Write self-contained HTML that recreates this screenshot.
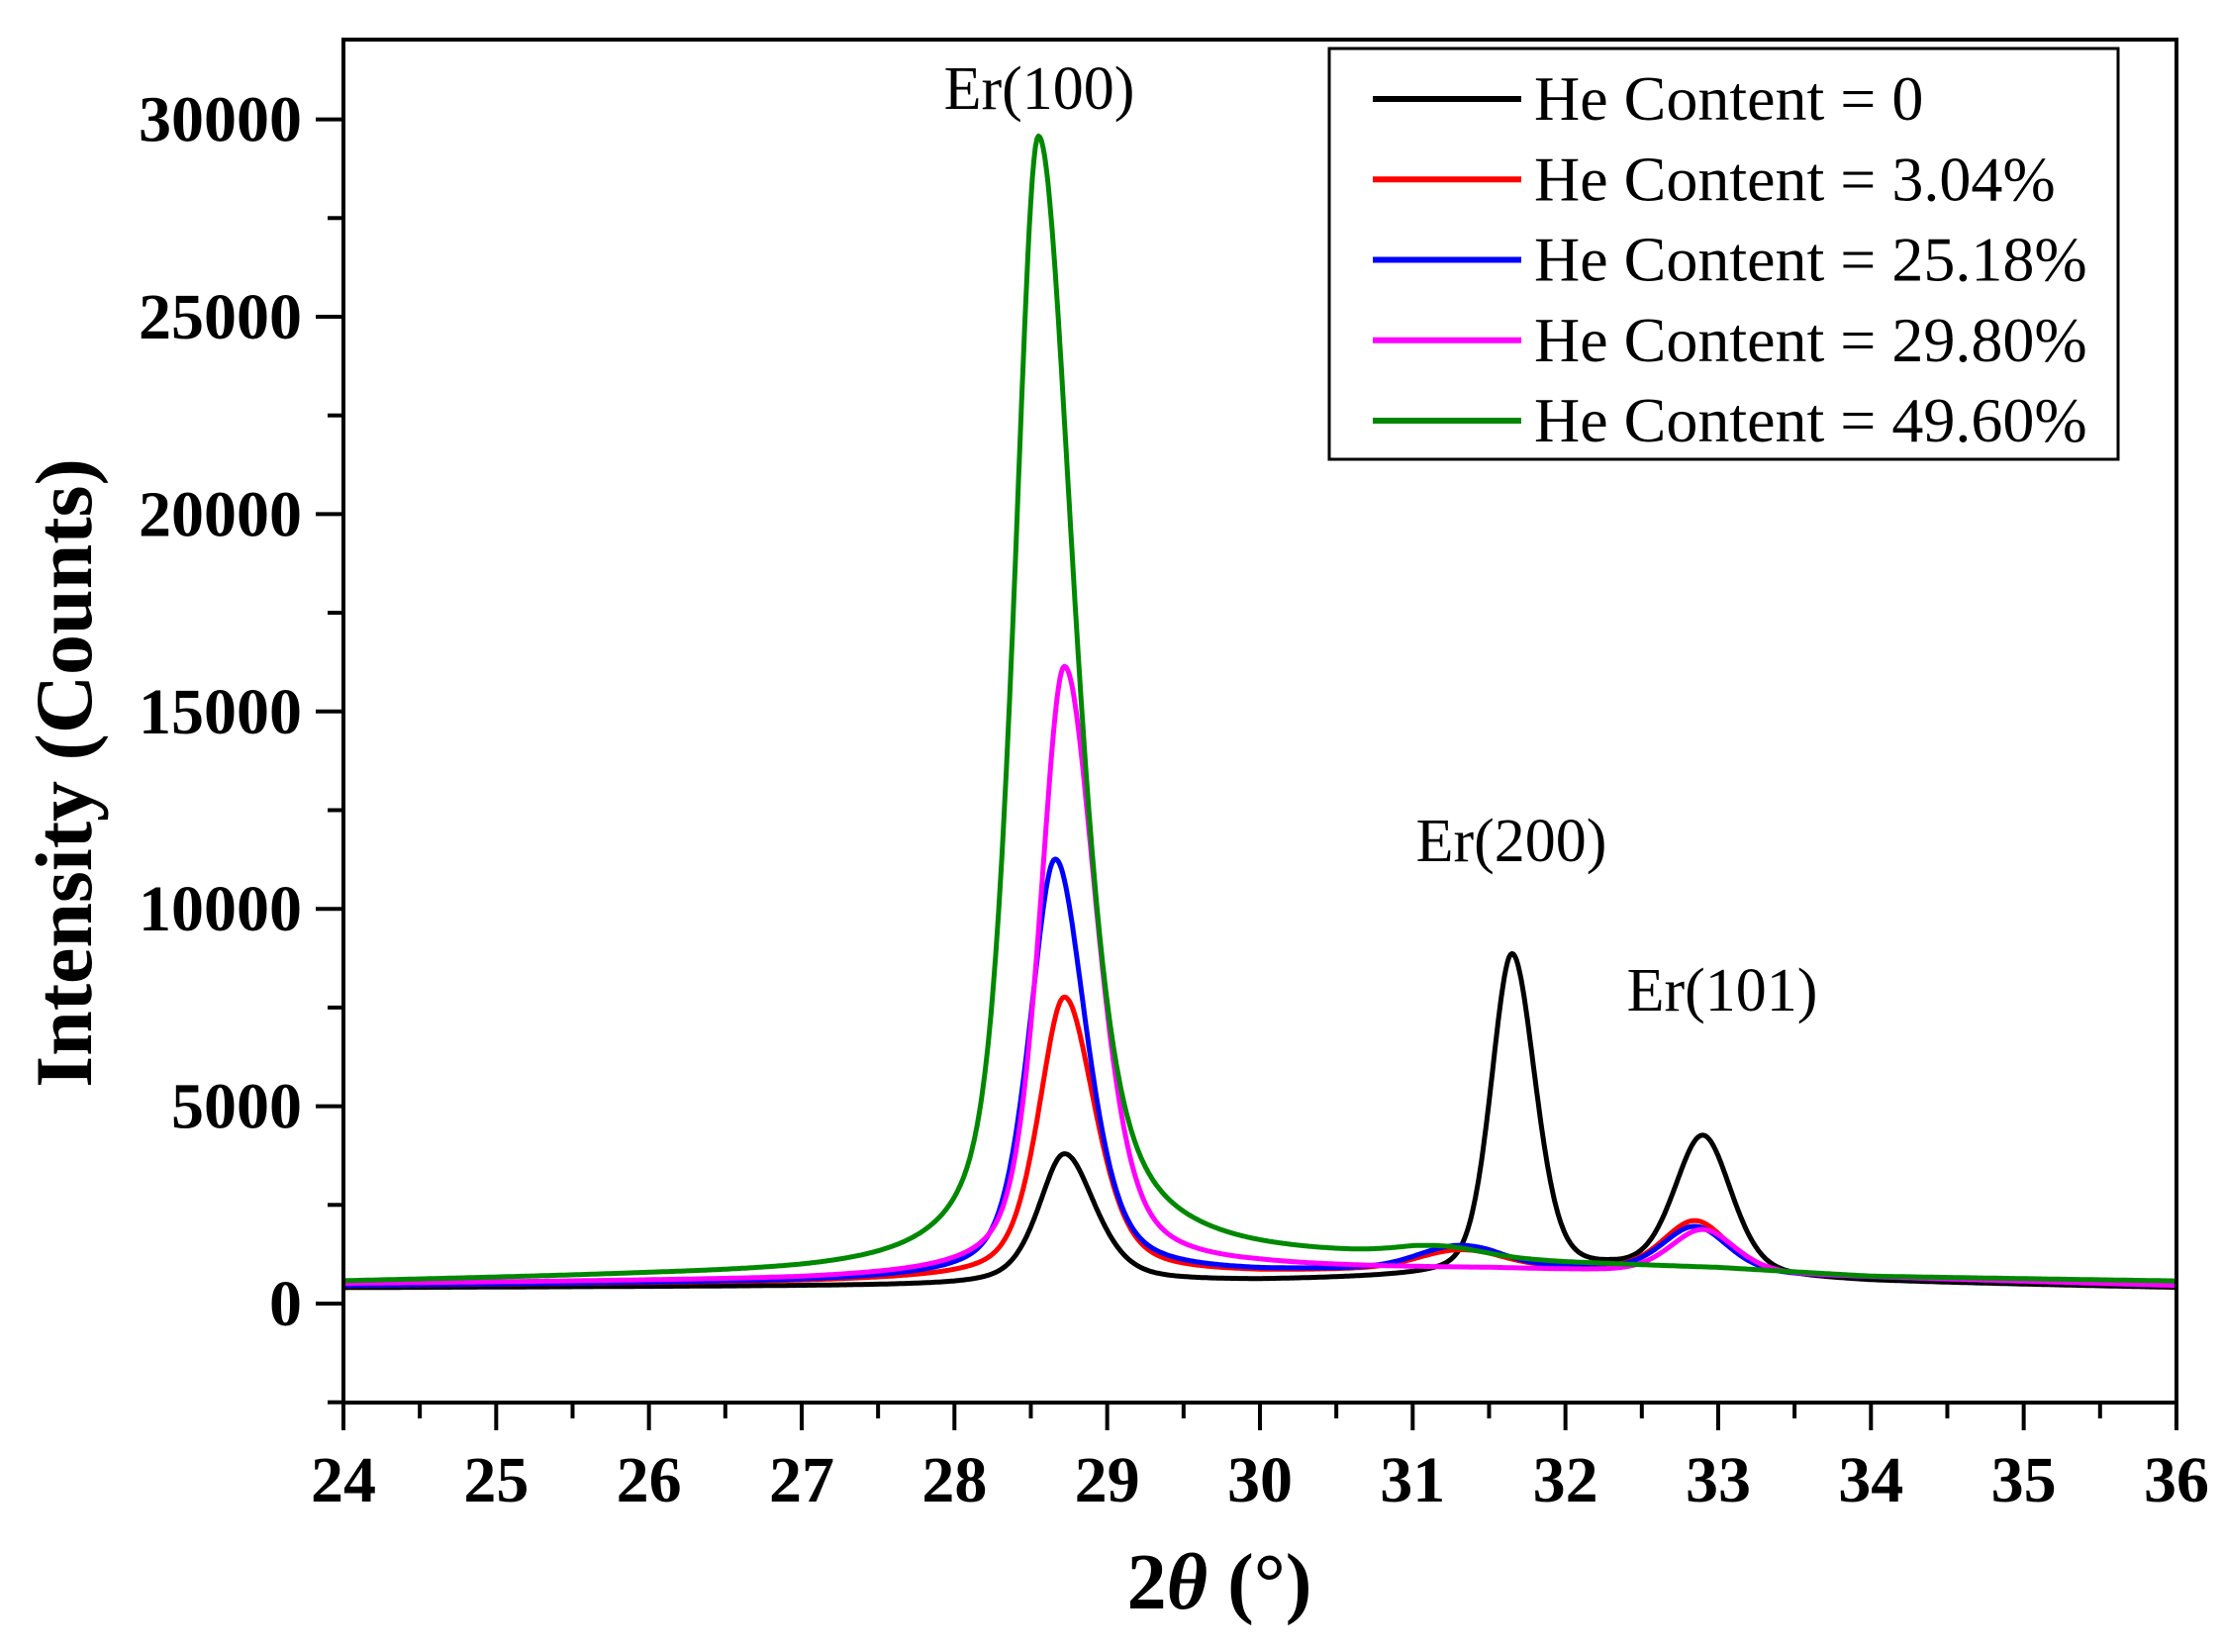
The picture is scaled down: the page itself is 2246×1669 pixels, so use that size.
<!DOCTYPE html>
<html><head><meta charset="utf-8"><style>
html,body{margin:0;padding:0;background:#fff;}
svg{display:block;}
text{font-family:"Liberation Serif",serif;fill:#000;}
</style></head><body>
<svg id="s" width="2246" height="1669" viewBox="0 0 2246 1669" xmlns="http://www.w3.org/2000/svg">
<rect width="2246" height="1669" fill="#fff"/>
<g id="curves"></g>
<rect x="347" y="40" width="1852" height="1377" fill="none" stroke="#000" stroke-width="4"/>
<g id="ticks" stroke="#000" stroke-width="4"></g>
<g id="labels" font-weight="bold" font-size="66"></g>
<text x="1232" y="1625" text-anchor="middle" font-size="80" font-weight="bold">2<tspan font-style="italic">θ</tspan> (°)</text>
<text transform="translate(92,781) rotate(-90)" text-anchor="middle" font-size="82" font-weight="bold">Intensity (Counts)</text>
<text x="1050" y="110" text-anchor="middle" font-size="62">Er(100)</text>
<text x="1527" y="870" text-anchor="middle" font-size="62">Er(200)</text>
<text x="1740" y="1021" text-anchor="middle" font-size="62">Er(101)</text>
<rect x="1343" y="49" width="797" height="415" fill="#fff" stroke="#000" stroke-width="3"/>
<g id="legend" font-size="64"></g>
</svg>
<script>
const NS="http://www.w3.org/2000/svg";
const X=t=>347+(t-24)*154.33, Y=v=>1317-v*0.03988;
function el(p,tag,a,txt){const e=document.createElementNS(NS,tag);for(const k in a)e.setAttribute(k,a[k]);if(txt!==undefined)e.textContent=txt;document.getElementById(p).appendChild(e);}
for(let i=0;i<=24;i++){const t=24+i*0.5,x=X(t),maj=i%2==0;el('ticks','line',{x1:x,y1:1417,x2:x,y2:1417+(maj?28:16)});
 if(maj)el('labels','text',{x:x,y:1517,'text-anchor':'middle'},String(t));}
for(let v=-2500;v<=32000;v+=2500){const y=Y(v),maj=v%5000==0;el('ticks','line',{x1:347,y1:y,x2:347-(maj?28:16),y2:y});
 if(maj)el('labels','text',{x:305,y:y+22,'text-anchor':'end'},String(v));}
function pv(x,p){const[x0,h,wl,wr,eta]=p;const w=x<x0?wl:wr;const d=(x-x0)/w;return h*(eta/(1+d*d)+(1-eta)*Math.exp(-Math.LN2*d*d));}
function base(x,pts){for(let i=0;i<pts.length-1;i++){if(x<=pts[i+1][0]){const[a,b]=pts[i],[c,d]=pts[i+1];return b+(d-b)*(x-a)/(c-a);}}return pts[pts.length-1][1];}
const series=[
 ['#000',[[24,400],[28,450],[30,550],[31,650],[32.3,800],[34,550],[36,400]],[[28.72,3300,0.2,0.24,0.5],[31.65,8100,0.16,0.18,0.3],[32.9,3500,0.22,0.22,0.3]]],
 ['#f00',[[24,450],[27,550],[30,750],[31.5,950],[33.6,700],[36,450]],[[28.72,7100,0.2,0.24,0.5],[31.3,400,0.3,0.3,0],[32.85,1300,0.25,0.25,0.3]]],
 ['#00f',[[24,450],[27,550],[30,750],[31.5,950],[33.6,700],[36,450]],[[28.66,10600,0.2,0.24,0.5],[31.3,500,0.3,0.3,0],[32.85,1150,0.25,0.25,0.3]]],
 ['#f0f',[[24,500],[27,600],[30,850],[31.5,850],[33.6,700],[36,450]],[[28.72,15400,0.19,0.25,0.5],[32.9,1100,0.25,0.25,0.3]]],
 ['#080',[[24,550],[26,700],[27,750],[30,1000],[31,1100],[32,950],[33,850],[34,650],[36,550]],[[28.55,28700,0.19,0.28,0.6],[31.2,200,0.3,0.3,0]]]
];
for(const[c,b,pk]of series){let d='';for(let t=24;t<=36.0001;t+=0.01){let v=base(t,b);for(const p of pk)v+=pv(t,p);d+=(d?'L':'M')+X(t).toFixed(1)+' '+Y(v).toFixed(1);}
 el('curves','path',{d:d,fill:'none',stroke:c,'stroke-width':5,'stroke-linejoin':'round'});}
const lg=[['#000','He Content = 0'],['#f00','He Content = 3.04%'],['#00f','He Content = 25.18%'],['#f0f','He Content = 29.80%'],['#080','He Content = 49.60%']];
lg.forEach(([c,t],i)=>{const y=100+i*81.25;el('legend','line',{x1:1387,y1:y,x2:1537,y2:y,stroke:c,'stroke-width':6});el('legend','text',{x:1550,y:y+21},t);});
</script>
</body></html>
